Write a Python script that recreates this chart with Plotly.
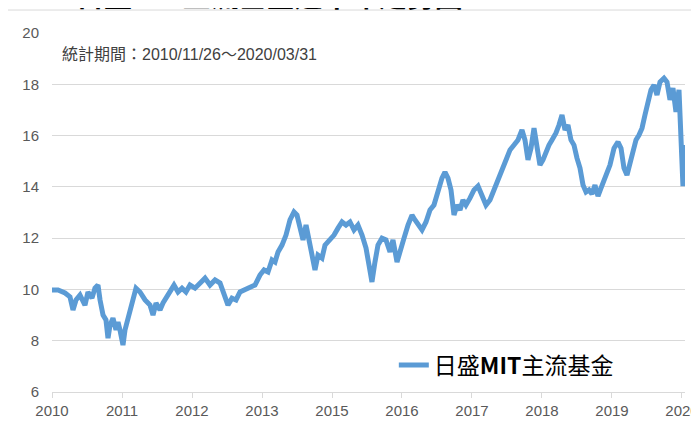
import plotly.graph_objects as go

# time position in axis-label units (0 = "2010" label, 9 = "2020" label)
t = [0, 0.086, 0.186, 0.257, 0.3, 0.343, 0.4, 0.471, 0.514, 0.571, 0.614, 0.657, 0.686, 0.729, 0.771, 0.8,
     0.829, 0.871, 0.914, 0.943, 0.971, 1.014, 1.043, 1.086, 1.143, 1.2, 1.257, 1.329, 1.4, 1.443, 1.486,
     1.543, 1.586, 1.629, 1.686, 1.743, 1.8, 1.857, 1.914, 1.971, 2.043, 2.114, 2.186, 2.257, 2.329, 2.4,
     2.457, 2.514, 2.571, 2.629, 2.686, 2.757, 2.829, 2.9, 2.971, 3.029, 3.086, 3.143, 3.186, 3.229, 3.286,
     3.343, 3.4, 3.457, 3.5, 3.543, 3.586, 3.629, 3.671, 3.714, 3.757, 3.8, 3.857, 3.9, 3.971, 4.029, 4.086,
     4.143, 4.2, 4.257, 4.314, 4.371, 4.429, 4.486, 4.529, 4.571, 4.614, 4.657, 4.714, 4.771, 4.829, 4.871,
     4.929, 4.971, 5.029, 5.086, 5.143, 5.186, 5.229, 5.286, 5.343, 5.4, 5.457, 5.514, 5.571, 5.614, 5.657,
     5.7, 5.743, 5.786, 5.829, 5.871, 5.914, 5.971, 6.029, 6.086, 6.143, 6.2, 6.257, 6.314, 6.371, 6.429,
     6.486, 6.543, 6.6, 6.657, 6.714, 6.757, 6.8, 6.843, 6.886, 6.929, 6.971, 7.014, 7.057, 7.1, 7.143, 7.2,
     7.243, 7.286, 7.329, 7.371, 7.414, 7.457, 7.5, 7.543, 7.586, 7.629, 7.671, 7.714, 7.757, 7.8, 7.843,
     7.886, 7.929, 7.971, 8.029, 8.086, 8.129, 8.171, 8.214, 8.257, 8.3, 8.343, 8.386, 8.429, 8.471, 8.514,
     8.557, 8.6, 8.643, 8.686, 8.743, 8.786, 8.829, 8.871, 8.914, 8.957, 8.986, 9.0, 9.014, 9.029, 9.043]

nav = [9.98, 9.98, 9.86, 9.71, 9.20, 9.59, 9.78, 9.39, 9.90, 9.66, 10.05, 10.17, 9.59, 9.00, 8.81, 8.10,
       8.61, 8.88, 8.42, 8.73, 8.42, 7.83, 8.42, 8.88, 9.59, 10.05, 9.90, 9.59, 9.39, 9.00, 9.47,
       9.20, 9.47, 9.66, 9.98, 10.17, 9.90, 10.05, 9.90, 10.17, 10.05, 10.25, 10.44, 10.17, 10.37, 10.25,
       9.78, 9.39, 9.66, 9.59, 9.90, 9.98, 10.05, 10.17, 10.56, 10.76, 10.68, 11.15, 11.07, 11.46, 11.73,
       12.12, 12.71, 13.02, 12.90, 12.32, 11.93, 12.51, 11.93, 11.54, 10.76, 11.34, 11.22, 11.73, 11.93, 12.12, 12.39,
       12.63, 12.51, 12.63, 12.32, 12.51, 12.12, 11.61, 10.95, 10.29, 11.07, 11.73, 12.00, 11.93, 11.46, 11.93,
       11.07, 11.54, 12.00, 12.51, 12.90, 12.71, 12.51, 12.32, 12.63, 13.10, 13.29, 13.88, 14.34, 14.58, 14.34,
       13.88, 12.90, 13.29, 13.10, 13.49, 13.29, 13.56, 13.88, 14.03, 13.68, 13.29, 13.49, 13.88, 14.27, 14.66,
       15.12, 15.44, 15.63, 15.83, 16.22, 15.83, 15.05, 15.51, 16.29, 15.63, 14.85, 15.05, 15.36, 15.63, 15.83, 16.10,
       16.41, 16.80, 16.22, 16.41, 15.83, 15.63, 15.12, 14.73, 14.07, 13.80, 13.88, 13.72, 14.07, 13.64, 13.95,
       14.27, 14.58, 14.85, 15.51, 15.75, 15.51, 14.73, 14.46, 14.97, 15.44, 15.83, 16.02, 16.29, 16.80, 17.39,
       17.78, 17.97, 17.58, 18.09, 18.24, 18.09, 17.39, 17.85, 16.92, 17.78, 15.44, 14.46, 14.03, 15.05, 15.63]

tick_pos = [0, 1, 2, 3, 4, 5, 6, 7, 8, 9]
tick_labels = ["2010", "2011", "2012", "2013", "2015", "2016", "2017", "2018", "2019", "2020"]
y_ticks = [6, 8, 10, 12, 14, 16, 18, 20]

series_name = "日盛<b>MIT</b>主流基金"
period_text = "統計期間：2010/11/26～2020/03/31"
title_text = "日盛MIT主流基金近十年走勢圖"

fig = go.Figure()
fig.add_trace(go.Scatter(
    x=t, y=nav, mode="lines", name=series_name,
    line=dict(color="#5B9BD5", width=5),
))

fig.update_layout(
    width=699, height=423,
    margin=dict(l=44, r=22, t=25, b=39, autoexpand=False),
    paper_bgcolor="white", plot_bgcolor="white",
    font=dict(family="Liberation Sans Narrow, Liberation Sans, Arial", size=14, color="#595959"),
    showlegend=True,
    legend=dict(
        x=0.54, y=0.075, xanchor="left", yanchor="middle",
        font=dict(family="Noto Sans CJK TC", size=23, color="#000000"),
        bgcolor="rgba(0,0,0,0)", itemwidth=30,
    ),
    xaxis=dict(
        range=[0, 9.043], tickmode="array", tickvals=tick_pos, ticktext=tick_labels,
        showgrid=False, zeroline=False, showline=True, linecolor="#d9d9d9", linewidth=1,
        ticks="outside", ticklen=5, tickcolor="#d9d9d9", automargin=False,
        tickfont=dict(size=15, color="#595959"),
    ),
    yaxis=dict(
        range=[6, 20], tickmode="array", tickvals=y_ticks,
        showgrid=True, gridcolor="#d9d9d9", gridwidth=1, zeroline=False, showline=False,
        ticks="", ticklabelstandoff=12, automargin=False,
        tickfont=dict(size=15, color="#595959"),
    ),
    shapes=[dict(
        type="rect", xref="paper", yref="paper",
        x0=-0.0742, x1=1.2, y0=-0.3, y1=1.064,
        line=dict(color="#d9d9d9", width=1), fillcolor="rgba(0,0,0,0)", layer="below",
    )],
    annotations=[
        dict(
            text=period_text, xref="paper", yref="paper", x=0.0126, y=0.939,
            xanchor="left", yanchor="middle", showarrow=False,
            font=dict(family="Liberation Sans, Noto Sans CJK TC", size=16, color="#404040"),
        ),
        dict(
            text="<b>" + title_text + "</b>", xref="paper", yref="paper", x=0.035, y=1.044,
            xanchor="left", yanchor="bottom", showarrow=False,
            font=dict(family="Noto Sans CJK TC", size=28, color="#000000"),
        ),
    ],
)

fig.write_html("out.html")
